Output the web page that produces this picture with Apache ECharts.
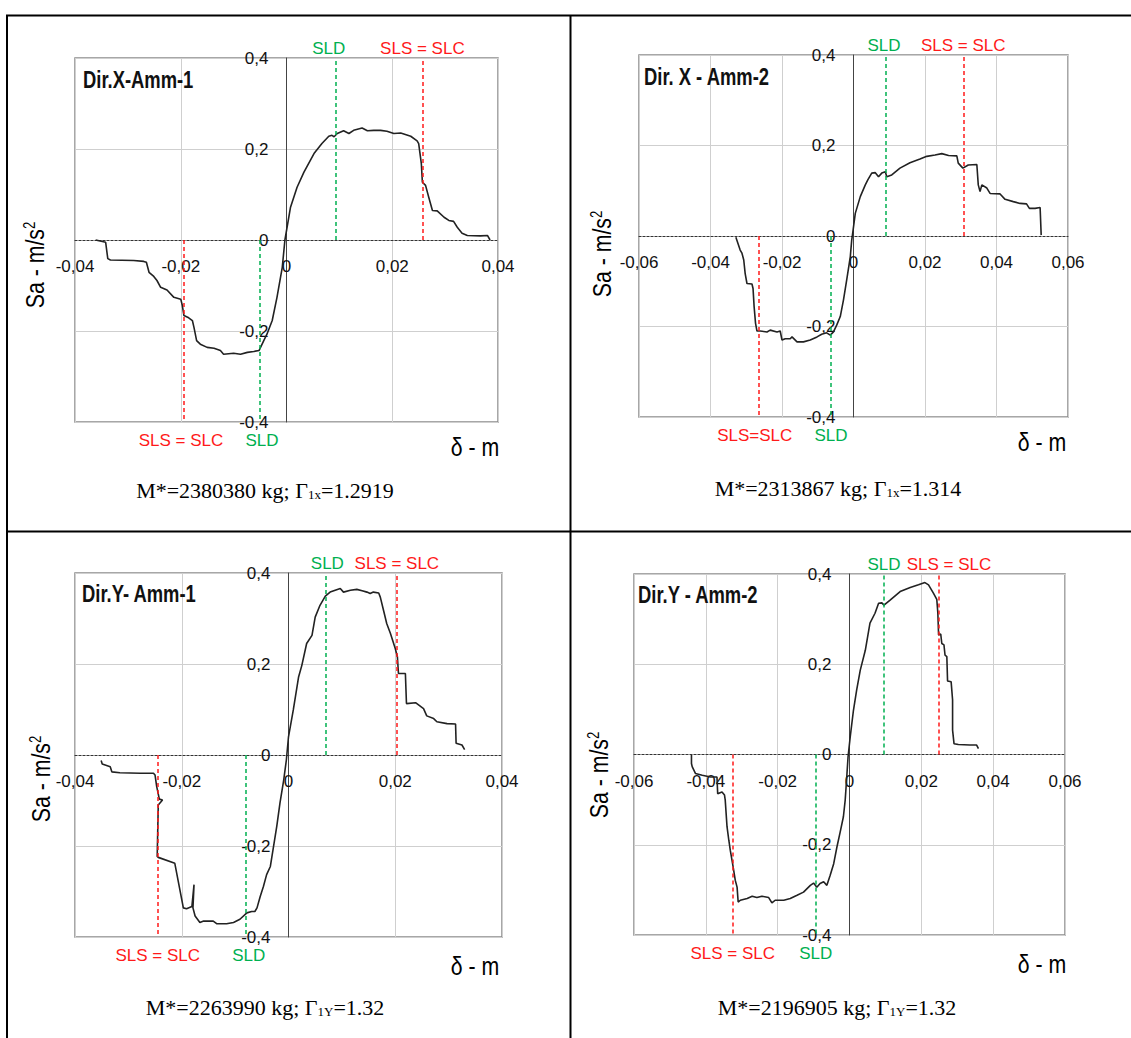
<!DOCTYPE html>
<html>
<head>
<meta charset="utf-8">
<script src="https://cdn.jsdelivr.net/npm/echarts@6/dist/echarts.min.js"></script>
<style>
html,body{margin:0;padding:0;background:#fff;}
#chart{width:1131px;height:1038px;}
</style>
</head>
<body>
<div id="chart"></div>
<script>
// ---------- DATA ----------
const panelTitles = ['Dir.X-Amm-1', 'Dir. X - Amm-2', 'Dir.Y- Amm-1', 'Dir.Y - Amm-2'];
const captionMass = ['2380380', '2313867', '2263990', '2196905'];
const captionGammaSub = ['1x', '1x', '1Y', '1Y'];
const captionGamma = ['1.2919', '1.314', '1.32', '1.32'];
const xLimits = [0.04, 0.06, 0.04, 0.06];
const xIntervals = [0.02, 0.02, 0.02, 0.02];
const yTicks = [-0.4, -0.2, 0, 0.2, 0.4];
const yAxisName = 'Sa - m/s';
const xAxisName = 'δ - m';

// SLD / SLS=SLC limits [positive side, negative side]
const sldLimits = [[0.0093, -0.0050], [0.0091, -0.0063], [0.0069, -0.0080], [0.0096, -0.0094]];
const slsLimits = [[0.0257, -0.0194], [0.0307, -0.0265], [0.0203, -0.0245], [0.0249, -0.0325]];
const slsTopText = ['SLS = SLC', 'SLS = SLC', 'SLS = SLC', 'SLS = SLC'];
const slsBottomText = ['SLS = SLC', 'SLS=SLC', 'SLS = SLC', 'SLS = SLC'];

// capacity curves [delta (m), Sa (m/s2)]
const curveXAmm1 = [
 [-0.0361,0],[-0.0342,-0.005],[-0.0338,-0.041],[-0.0333,-0.044],[-0.0289,-0.045],[-0.0270,-0.047],[-0.0265,-0.049],
 [-0.0260,-0.071],[-0.0251,-0.080],[-0.0245,-0.089],[-0.0238,-0.104],[-0.0226,-0.110],[-0.0213,-0.126],[-0.0200,-0.130],
 [-0.0197,-0.144],[-0.0194,-0.166],[-0.0185,-0.171],[-0.0178,-0.177],[-0.0175,-0.192],[-0.0170,-0.221],[-0.0163,-0.229],
 [-0.0150,-0.236],[-0.0137,-0.238],[-0.0125,-0.243],[-0.0119,-0.251],[-0.0100,-0.249],[-0.0087,-0.251],[-0.0074,-0.247],
 [-0.0062,-0.245],[-0.0052,-0.243],[-0.0043,-0.221],[-0.0037,-0.207],[-0.0027,-0.177],[-0.0018,-0.126],[-0.0008,-0.060],
 [-0.0003,0],[0.00076,0.072],[0.0020,0.116],[0.0033,0.149],[0.0052,0.190],[0.0067,0.212],[0.0080,0.228],[0.0086,0.230],
 [0.0090,0.227],[0.0096,0.234],[0.0108,0.240],[0.0118,0.234],[0.0127,0.241],[0.0143,0.246],[0.0153,0.240],[0.0165,0.241],
 [0.0178,0.241],[0.0190,0.239],[0.0203,0.234],[0.0216,0.235],[0.0235,0.228],[0.0247,0.218],[0.0250,0.212],[0.0255,0.168],
 [0.0257,0.127],[0.0263,0.120],[0.0269,0.094],[0.0276,0.065],[0.0285,0.064],[0.0298,0.050],[0.0307,0.043],[0.0316,0.041],
 [0.0323,0.028],[0.0332,0.015],[0.0342,0.010],[0.0367,0.009],[0.0380,0.010],[0.0385,0.000]
];
const curveXAmm2 = [
 [-0.0329,-0.003],[-0.0317,-0.031],[-0.0312,-0.038],[-0.0307,-0.053],[-0.0303,-0.083],[-0.0298,-0.105],[-0.0284,-0.106],
 [-0.0281,-0.116],[-0.0278,-0.156],[-0.0274,-0.193],[-0.0270,-0.210],[-0.0261,-0.210],[-0.0242,-0.212],[-0.0233,-0.208],
 [-0.0214,-0.212],[-0.0205,-0.210],[-0.0200,-0.230],[-0.0191,-0.227],[-0.0177,-0.227],[-0.0172,-0.223],[-0.0158,-0.234],
 [-0.0140,-0.234],[-0.0121,-0.230],[-0.0102,-0.223],[-0.0089,-0.217],[-0.0075,-0.214],[-0.0065,-0.219],[-0.0056,-0.212],
 [-0.0047,-0.197],[-0.0037,-0.178],[-0.0028,-0.141],[-0.0019,-0.097],[-0.0009,-0.046],[-0.0005,-0.009],[-0.0003,0.002],
 [0.0005,0.050],[0.0019,0.087],[0.0033,0.113],[0.0040,0.124],[0.0051,0.139],[0.0061,0.140],[0.0070,0.131],[0.0079,0.139],
 [0.0089,0.142],[0.0093,0.131],[0.0107,0.135],[0.0130,0.150],[0.0158,0.162],[0.0186,0.170],[0.0205,0.176],[0.0228,0.179],
 [0.0247,0.182],[0.0266,0.178],[0.0289,0.177],[0.0293,0.161],[0.0306,0.150],[0.0321,0.157],[0.0345,0.158],[0.0349,0.113],
 [0.0354,0.098],[0.0359,0.113],[0.0373,0.106],[0.0382,0.094],[0.0410,0.093],[0.0424,0.081],[0.0447,0.076],[0.0466,0.072],
 [0.0484,0.071],[0.0492,0.061],[0.0508,0.061],[0.0522,0.063],[0.0525,0.002]
];
const curveYAmm1 = [
 [-0.0351,-0.012],[-0.0349,-0.020],[-0.0334,-0.026],[-0.0331,-0.037],[-0.0316,-0.039],[-0.0278,-0.040],[-0.0253,-0.040],
 [-0.0250,-0.044],[-0.0247,-0.069],[-0.0242,-0.097],[-0.0236,-0.099],[-0.0244,-0.110],[-0.0246,-0.223],[-0.0244,-0.225],
 [-0.0213,-0.238],[-0.0197,-0.336],[-0.0191,-0.338],[-0.0181,-0.333],[-0.0177,-0.285],[-0.0179,-0.336],[-0.0175,-0.354],
 [-0.0166,-0.368],[-0.0159,-0.365],[-0.0141,-0.365],[-0.0134,-0.371],[-0.0116,-0.371],[-0.0103,-0.368],[-0.0091,-0.361],
 [-0.0078,-0.347],[-0.0069,-0.344],[-0.0063,-0.344],[-0.0059,-0.336],[-0.0053,-0.311],[-0.0047,-0.289],[-0.0041,-0.263],
 [-0.0034,-0.245],[-0.0028,-0.201],[-0.0022,-0.157],[-0.0016,-0.106],[-0.0009,-0.055],[-0.0004,-0.011],
 [0.0000,0.040],[0.0009,0.099],[0.0019,0.172],[0.0025,0.197],[0.0034,0.245],[0.0044,0.263],[0.0050,0.303],[0.0059,0.329],
 [0.0069,0.349],[0.0078,0.358],[0.0097,0.366],[0.0103,0.358],[0.0116,0.362],[0.0128,0.364],[0.0138,0.361],[0.0147,0.358],
 [0.0153,0.355],[0.0159,0.358],[0.0169,0.356],[0.0172,0.347],[0.0178,0.318],[0.0184,0.289],[0.0191,0.267],[0.0200,0.234],
 [0.0204,0.216],[0.0206,0.179],[0.0219,0.179],[0.0221,0.113],[0.0238,0.115],[0.0253,0.102],[0.0259,0.086],[0.0272,0.080],
 [0.0278,0.073],[0.0297,0.069],[0.0313,0.068],[0.0314,0.026],[0.0325,0.022],[0.0330,0.012]
];
const curveYAmm2 = [
 [-0.0440,-0.001],[-0.0440,-0.020],[-0.0438,-0.027],[-0.0429,-0.042],[-0.0410,-0.046],[-0.0387,-0.050],[-0.0369,-0.050],
 [-0.0367,-0.087],[-0.0355,-0.083],[-0.0348,-0.090],[-0.0346,-0.101],[-0.0341,-0.160],[-0.0336,-0.190],[-0.0332,-0.212],
 [-0.0324,-0.249],[-0.0318,-0.279],[-0.0313,-0.294],[-0.0310,-0.327],[-0.0304,-0.323],[-0.0285,-0.319],[-0.0271,-0.314],
 [-0.0258,-0.317],[-0.0244,-0.314],[-0.0225,-0.317],[-0.0216,-0.329],[-0.0207,-0.323],[-0.0183,-0.323],[-0.0165,-0.319],
 [-0.0146,-0.312],[-0.0128,-0.305],[-0.0109,-0.290],[-0.0100,-0.285],[-0.0091,-0.294],[-0.0082,-0.286],[-0.0072,-0.282],
 [-0.0063,-0.290],[-0.0054,-0.268],[-0.0044,-0.242],[-0.0035,-0.205],[-0.0026,-0.172],[-0.0017,-0.138],[-0.0012,-0.101],
 [-0.0007,-0.042],[-0.0004,-0.005],
 [0.0002,0.039],[0.0011,0.098],[0.0020,0.143],[0.0030,0.187],[0.0044,0.231],[0.0057,0.291],[0.0071,0.313],[0.0081,0.335],
 [0.0090,0.336],[0.0096,0.331],[0.0113,0.342],[0.0141,0.361],[0.0169,0.370],[0.0192,0.376],[0.0210,0.381],[0.0220,0.376],
 [0.0234,0.357],[0.0243,0.344],[0.0246,0.313],[0.0248,0.265],[0.0254,0.267],[0.0257,0.246],[0.0263,0.243],[0.0266,0.220],
 [0.0271,0.217],[0.0273,0.163],[0.0283,0.161],[0.0287,0.121],[0.0287,0.054],[0.0291,0.024],[0.0303,0.022],[0.0335,0.021],
 [0.0354,0.021],[0.0359,0.013]
];
const curves = [curveXAmm1, curveXAmm2, curveYAmm1, curveYAmm2];

// ---------- LAYOUT / STYLE ----------
const SANS = "'Liberation Sans',Arial,sans-serif";
const SERIF = "'Liberation Serif','Times New Roman',serif";
const NARROW_SCALE = 0.82;
const GREEN = '#00b050';
const RED = '#ff1a1a';
const grids = [
  {left: 75, top: 58, width: 423, height: 364},
  {left: 639, top: 55, width: 429, height: 362},
  {left: 75, top: 573, width: 427, height: 364},
  {left: 634, top: 574, width: 431, height: 361}
];
const titlePos = [[83, 80], [644, 77], [82, 594], [638, 595]];
const captionPos = [[265, 490], [838, 488], [265, 1007], [837, 1007]];
const yNamePos = [[35, 265], [602, 254], [41, 779], [599, 775]];
const xNamePos = [[475, 447], [1042, 442], [475, 966], [1042, 964]];
// horizontal nudges of the top/bottom limit labels (px)
const sldTopShift = [-7, -2, 2, 0], slsTopShift = [0, 0, 0, 10];
const slsBotShift = [-3, -4, 0, 0], sldBotShift = [2, 0, 3, 0];

function fmtX(v) { if (Math.abs(v) < 1e-9) return '0'; return v.toFixed(2).replace('.', ','); }
function fmtY(v) { if (Math.abs(v) < 1e-9) return '0'; return v.toFixed(1).replace('.', ','); }
function shiftPad(s) { return s >= 0 ? [0, 0, 0, 2 * s] : [0, -2 * s, 0, 0]; }

function limitLine(x, yEnd, text, color, dist, shift) {
  return [
    {coord: [x, 0],
     lineStyle: {color: color, type: [4, 3], width: 1.5},
     label: {show: true, position: 'end', formatter: text, color: color, fontSize: 17,
              fontFamily: SANS, distance: dist, padding: shiftPad(shift)}},
    {coord: [x, yEnd]}
  ];
}

const xAxes = [], yAxes = [], series = [], graphics = [];
for (let i = 0; i < 4; i++) {
  const xm = xLimits[i];
  const g = grids[i];
  xAxes.push({
    type: 'value', gridIndex: i, min: -xm, max: xm, interval: xIntervals[i],
    position: 'bottom', offset: -g.height / 2,
    axisLine: {show: true, onZero: false, lineStyle: {color: '#333', type: [2, 2], width: 1}},
    axisTick: {show: false},
    splitLine: {show: true, lineStyle: {color: '#cfcfcf', width: 1}},
    axisLabel: {formatter: fmtX, fontSize: 17, margin: 18, color: '#111', fontFamily: SANS}
  });
  yAxes.push({
    type: 'value', gridIndex: i, min: yTicks[0], max: yTicks[yTicks.length - 1], interval: 0.2,
    position: 'left', offset: -g.width / 2,
    axisLine: {show: true, onZero: false, lineStyle: {color: '#444', width: 1}},
    axisTick: {show: false},
    splitLine: {show: true, lineStyle: {color: '#cfcfcf', width: 1}},
    axisLabel: {formatter: fmtY, fontSize: 17, margin: 18, color: '#111', fontFamily: SANS}
  });
  series.push({
    type: 'line', xAxisIndex: i, yAxisIndex: i, data: curves[i],
    showSymbol: false, symbol: 'none', animation: false,
    lineStyle: {color: '#222', width: 1.6},
    markLine: {
      symbol: ['none', 'none'], silent: true, animation: false,
      data: [
        limitLine(sldLimits[i][0], 0.4, 'SLD', GREEN, 1, sldTopShift[i]),
        limitLine(slsLimits[i][0], 0.4, slsTopText[i], RED, 1, slsTopShift[i]),
        limitLine(slsLimits[i][1], -0.4, slsBottomText[i], RED, 10, slsBotShift[i]),
        limitLine(sldLimits[i][1], -0.4, 'SLD', GREEN, 10, sldBotShift[i])
      ]
    }
  });
  graphics.push({
    type: 'text', x: titlePos[i][0], y: titlePos[i][1], scaleX: 0.8, z: 100,
    style: {text: panelTitles[i], fill: '#111', fontSize: 23, fontWeight: 'bold',
            fontFamily: SANS, align: 'left', verticalAlign: 'middle'}
  });
  graphics.push({
    type: 'text', x: captionPos[i][0], y: captionPos[i][1], z: 100,
    style: {text: 'M*=' + captionMass[i] + ' kg; Γ{sub|' + captionGammaSub[i] + '}=' + captionGamma[i],
            fill: '#000', fontSize: 22, fontFamily: SERIF, align: 'center', verticalAlign: 'middle',
            lineHeight: 22,
            rich: {sub: {fontSize: 13, fontFamily: SERIF, fill: '#000', verticalAlign: 'bottom', lineHeight: 6}}}
  });
  graphics.push({
    type: 'text', x: yNamePos[i][0], y: yNamePos[i][1], rotation: Math.PI / 2, scaleX: NARROW_SCALE, z: 100,
    style: {text: yAxisName + '{sup|2}', fill: '#000', fontSize: 26, fontFamily: SANS,
            align: 'center', verticalAlign: 'middle', lineHeight: 26,
            rich: {sup: {fontSize: 16, fontFamily: SANS, fill: '#000', verticalAlign: 'top', lineHeight: 14}}}
  });
  graphics.push({
    type: 'text', x: xNamePos[i][0], y: xNamePos[i][1], scaleX: NARROW_SCALE, z: 100,
    style: {text: xAxisName, fill: '#000', fontSize: 26, fontFamily: SANS,
            align: 'center', verticalAlign: 'middle'}
  });
}
// table rules
const rule = (x1, y1, x2, y2) => ({type: 'line', z: 100, shape: {x1, y1, x2, y2}, style: {stroke: '#000', lineWidth: 2}});
graphics.push(rule(6, 15.5, 1131, 15.5));
graphics.push(rule(7, 15, 7, 1038));
graphics.push(rule(570.5, 15, 570.5, 1038));
graphics.push(rule(6, 531.5, 1131, 531.5));

const chart = echarts.init(document.getElementById('chart'), null, {renderer: 'svg'});
chart.setOption({
  animation: false,
  backgroundColor: '#fff',
  grid: grids.map(g => Object.assign({show: true, borderColor: '#8a8a8a', borderWidth: 1.5, backgroundColor: 'transparent'}, g)),
  xAxis: xAxes,
  yAxis: yAxes,
  series: series,
  graphic: graphics
});
</script>
</body>
</html>
